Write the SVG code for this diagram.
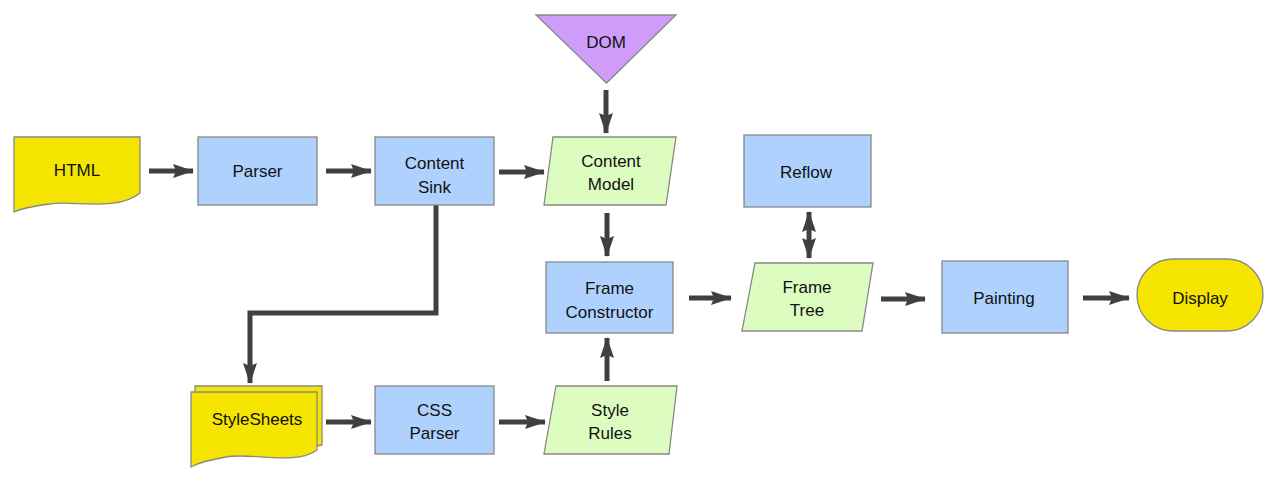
<svg xmlns="http://www.w3.org/2000/svg" width="1273" height="496" viewBox="0 0 1273 496">
<style>
.n{stroke:#888;stroke-width:1.3}
.blue{fill:#afd1fe}
.green{fill:#ddfcc0}
.yellow{fill:#f5e500}
.purple{fill:#d09cf9}
text{font-family:"Liberation Sans",Arial,sans-serif;font-size:17px;fill:#111;text-anchor:middle}
.c{fill:none;stroke:#404040;stroke-width:5}
</style>
<defs>
<marker id="ah" markerUnits="userSpaceOnUse" markerWidth="22" markerHeight="14" refX="20" refY="7" orient="auto">
<path d="M0,0 L21,7 L0,14 L3,7 Z" fill="#404040"/>
</marker>
<marker id="as" markerUnits="userSpaceOnUse" markerWidth="22" markerHeight="14" refX="1" refY="7" orient="auto">
<path d="M21,0 L0,7 L21,14 L18,7 Z" fill="#404040"/>
</marker>
</defs>
<g id="connectors">
<path class="c" d="M149,171 H193" marker-end="url(#ah)"/>
<path class="c" d="M326,171 H371" marker-end="url(#ah)"/>
<path class="c" d="M499,172 H544" marker-end="url(#ah)"/>
<path class="c" d="M606,90 V133" marker-end="url(#ah)"/>
<path class="c" d="M607,213 V256" marker-end="url(#ah)"/>
<path class="c" d="M607,381 V338" marker-end="url(#ah)"/>
<path class="c" d="M689,298 H731" marker-end="url(#ah)"/>
<path class="c" d="M809,212 V258" marker-start="url(#as)" marker-end="url(#ah)"/>
<path class="c" d="M881,299 H925" marker-end="url(#ah)"/>
<path class="c" d="M1083,298 H1129" marker-end="url(#ah)"/>
<path class="c" d="M436,205 V313 H250 V383" stroke-linejoin="miter" marker-end="url(#ah)"/>
<path class="c" d="M326,422 H371" marker-end="url(#ah)"/>
<path class="c" d="M499,422 H545" marker-end="url(#ah)"/>
</g>
<g id="html">
<path class="n yellow" d="M14,137 H140 V193 C118,212 70,200 50,204 C34,206 22,208 14,212 Z"/>
<text x="77" y="176">HTML</text>
</g>
<g id="parser">
<rect class="n blue" x="198" y="137" width="119" height="68"/>
<text x="257.5" y="177">Parser</text>
</g>
<g id="contentsink">
<rect class="n blue" x="375" y="137" width="119" height="68"/>
<text x="434.5" y="169">Content</text>
<text x="434.5" y="193">Sink</text>
</g>
<g id="dom">
<path class="n purple" d="M536,15 H676 L606.5,83 Z"/>
<text x="606" y="48">DOM</text>
</g>
<g id="contentmodel">
<path class="n green" d="M553,137 H676 L666,205 H544 Z"/>
<text x="611" y="167">Content</text>
<text x="611" y="190">Model</text>
</g>
<g id="frameconstructor">
<rect class="n blue" x="546" y="262" width="127" height="71"/>
<text x="609.5" y="294">Frame</text>
<text x="609.5" y="318">Constructor</text>
</g>
<g id="reflow">
<rect class="n blue" x="744" y="135" width="127" height="72"/>
<text x="806" y="178">Reflow</text>
</g>
<g id="frametree">
<path class="n green" d="M755,263 H873 L862,331 H742 Z"/>
<text x="807" y="293">Frame</text>
<text x="807" y="316">Tree</text>
</g>
<g id="painting">
<rect class="n blue" x="942" y="261" width="126" height="72"/>
<text x="1004" y="304">Painting</text>
</g>
<g id="display">
<rect class="n yellow" x="1137" y="259" width="126" height="72" rx="36" ry="36"/>
<text x="1200" y="304">Display</text>
</g>
<g id="stylesheets">
<path class="n yellow" d="M195,386 H322 V445 C310,448 300,448 290,447 L195,447 Z"/>
<path class="n yellow" d="M191,392 H317 V450 C296,466 250,452 226,457 C210,460 200,462 191,467 Z"/>
<text x="257" y="425">StyleSheets</text>
</g>
<g id="cssparser">
<rect class="n blue" x="375" y="386" width="119" height="68"/>
<text x="434.5" y="416">CSS</text>
<text x="434.5" y="439">Parser</text>
</g>
<g id="stylerules">
<path class="n green" d="M556,386 H677 L669,454 H544 Z"/>
<text x="610" y="416">Style</text>
<text x="610" y="439">Rules</text>
</g>
</svg>
